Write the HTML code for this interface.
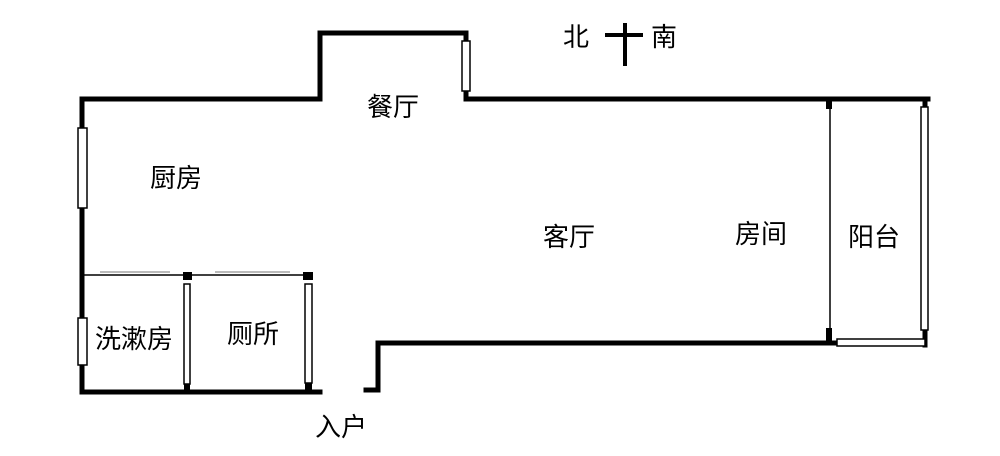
<!DOCTYPE html>
<html><head><meta charset="utf-8"><style>
html,body{margin:0;padding:0;background:#fff;}
svg{display:block}
text{font-family:"Liberation Sans","Noto Sans CJK SC",sans-serif;font-size:26px;fill:#000}
</style></head><body>
<svg width="1000" height="456" viewBox="0 0 1000 456" xmlns="http://www.w3.org/2000/svg">
<g fill="none" stroke="#000" stroke-width="5" stroke-linecap="square">
<polyline points="82,392 82,99 320,99 320,33 466,33 466,99 928,99"/>
<polyline points="82,392 320,392"/>
<polyline points="366,390 378,390 378,343 835,343"/>
<line x1="925" y1="99" x2="925" y2="345"/>
</g>
<g stroke="#000" stroke-width="1.5">
<line x1="84" y1="275" x2="187" y2="275"/>
<line x1="187" y1="275" x2="308" y2="275"/>
<line x1="830" y1="100" x2="830" y2="343"/>
</g>
<g stroke="#777" stroke-width="1">
<line x1="100" y1="272" x2="170" y2="272"/>
<line x1="215" y1="272" x2="290" y2="272"/>
</g>
<g fill="#000">
<rect x="183" y="272" width="9" height="8"/>
<rect x="303" y="272" width="10" height="8"/>
<rect x="826" y="99" width="6" height="10"/>
<rect x="826" y="328" width="6" height="17"/>
<rect x="184" y="383" width="6" height="10"/>
<rect x="305" y="383" width="7" height="10"/>
<line x1="625" y1="23" x2="625" y2="66" stroke="#000" stroke-width="4"/>
<line x1="605" y1="35" x2="643" y2="35" stroke="#000" stroke-width="4"/>
</g>
<g fill="#fff" stroke="#000" stroke-width="1.5">
<rect x="78" y="128" width="9" height="80"/>
<rect x="78" y="318" width="9" height="47"/>
<rect x="462" y="41" width="8" height="50"/>
<rect x="184" y="284" width="6" height="100"/>
<rect x="305" y="284" width="7" height="99"/>
<rect x="921" y="107" width="7" height="223"/>
<rect x="837" y="339" width="88" height="7"/>
</g>
<text x="563" y="46">北</text>
<text x="651" y="46">南</text>
<text x="367" y="116">餐厅</text>
<text x="150" y="187">厨房</text>
<text x="543" y="246">客厅</text>
<text x="735" y="243">房间</text>
<text x="848" y="246">阳台</text>
<text x="95" y="348">洗漱房</text>
<text x="227" y="343">厕所</text>
<text x="315" y="436">入户</text>
</svg>
</body></html>
